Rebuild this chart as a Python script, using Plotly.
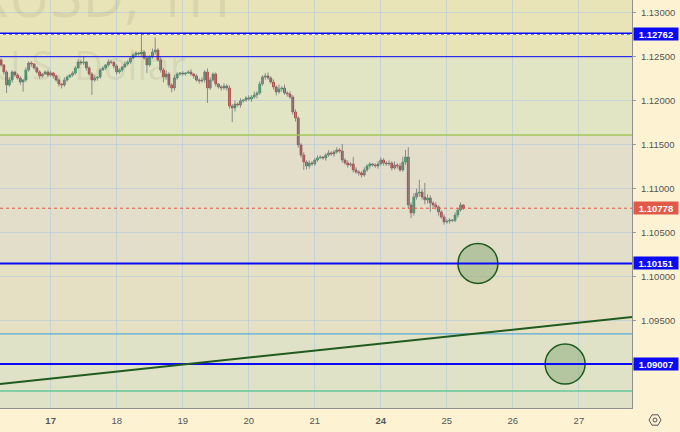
import math

import plotly.graph_objects as go

# EURUSD 1H, hourly closes per trading day (last hours of the 14th first)
first_open = 1.12463
closes_pre = [1.12406, 1.12326, 1.12178, 1.12235, 1.12326, 1.12292, 1.12258, 1.12212, 1.12235,
              1.12349, 1.12428, 1.12417, 1.12372, 1.12326, 1.12281, 1.12303, 1.12326, 1.12292]
closes_17 = [1.12315, 1.12281, 1.12235, 1.12190, 1.12178, 1.12235, 1.12269, 1.12292, 1.12315, 1.12372,
             1.12440, 1.12428, 1.12440, 1.12372, 1.12303, 1.12235, 1.12258, 1.12269, 1.12349, 1.12372,
             1.12406, 1.12440, 1.12436, 1.12394]
closes_18 = [1.12326, 1.12349, 1.12383, 1.12417, 1.12440, 1.12485, 1.12519, 1.12542, 1.12531, 1.12553,
             1.12485, 1.12406, 1.12497, 1.12553, 1.12576, 1.12463, 1.12349, 1.12269, 1.12303, 1.12178,
             1.12144, 1.12258, 1.12303, 1.12315]
closes_19 = [1.12303, 1.12315, 1.12326, 1.12303, 1.12281, 1.12235, 1.12224, 1.12235, 1.12326, 1.12144,
             1.12235, 1.12303, 1.12190, 1.12156, 1.12144, 1.12167, 1.12144, 1.11940, 1.11917, 1.11962,
             1.11951, 1.11997, 1.12008, 1.12031]
closes_20 = [1.12019, 1.12042, 1.12065, 1.12087, 1.12190, 1.12269, 1.12281, 1.12258, 1.12212, 1.12156,
             1.12099, 1.12133, 1.12144, 1.12087, 1.12076, 1.12042, 1.11872, 1.11803, 1.11497, 1.11383,
             1.11303, 1.11258, 1.11292, 1.11281]
closes_21 = [1.11326, 1.11349, 1.11360, 1.11349, 1.11383, 1.11406, 1.11394, 1.11417, 1.11440, 1.11428,
             1.11326, 1.11292, 1.11269, 1.11281, 1.11213, 1.11190, 1.11178, 1.11156, 1.11213, 1.11258,
             1.11281, 1.11269, 1.11258, 1.11281]
closes_24 = [1.11326, 1.11292, 1.11281, 1.11292, 1.11235, 1.11269, 1.11258, 1.11213, 1.11303, 1.11360,
             1.10815, 1.10724, 1.10906, 1.10951, 1.10962, 1.10906, 1.10872, 1.10894, 1.10837, 1.10815,
             1.10792, 1.10735, 1.10678, 1.10622]
closes_25 = [1.10633, 1.10644, 1.10640, 1.10701, 1.10758, 1.10815, 1.10778]

# wick lengths beyond the body, in pips
wick_up = ([2, 1, 2, 3, 2, 1, 2, 2, 1, 3, 2, 2, 1, 2, 2, 1, 2, 2]
           + [2, 1, 2, 2, 1, 3, 2, 1, 2, 2, 3, 2, 7, 1, 2, 2, 3, 1, 2, 2, 1, 3, 2, 1]
           + [2, 2, 1, 3, 2, 1, 2, 2, 1, 22, 2, 3, 2, 4, 14, 2, 3, 2, 4, 2, 2, 3, 2, 1]
           + [2, 1, 2, 3, 1, 2, 2, 3, 2, 4, 3, 2, 2, 1, 2, 3, 2, 3, 2, 4, 2, 3, 1, 2]
           + [3, 2, 4, 2, 3, 2, 3, 4, 2, 3, 2, 5, 2, 4, 2, 3, 2, 3, 2, 2, 3, 2, 3, 2]
           + [2, 3, 2, 1, 2, 3, 2, 2, 3, 2, 8, 2, 3, 2, 8, 3, 2, 2, 3, 2, 2, 1, 2, 3]
           + [3, 2, 2, 3, 2, 4, 2, 3, 6, 8, 11, 3, 4, 5, 14, 3, 16, 4, 3, 2, 3, 2, 2, 3]
           + [2, 2, 1, 3, 2, 3, 1])
wick_dn = ([2, 3, 9, 2, 3, 2, 2, 3, 11, 2, 2, 3, 2, 2, 3, 2, 1, 2]
           + [2, 3, 2, 3, 4, 2, 2, 1, 2, 2, 1, 2, 2, 3, 2, 17, 2, 3, 2, 1, 2, 2, 2, 3]
           + [3, 2, 2, 1, 2, 2, 1, 2, 2, 3, 2, 9, 2, 2, 3, 2, 3, 6, 3, 3, 5, 3, 2, 2]
           + [2, 2, 1, 2, 3, 2, 3, 2, 3, 17, 2, 2, 3, 2, 3, 2, 3, 3, 16, 4, 2, 3, 2, 2]
           + [2, 3, 2, 4, 2, 2, 3, 2, 2, 3, 4, 2, 3, 2, 3, 2, 3, 4, 3, 3, 9, 4, 3, 2]
           + [2, 2, 1, 2, 3, 2, 2, 3, 2, 2, 3, 2, 3, 2, 3, 2, 3, 3, 2, 2, 3, 2, 2, 3]
           + [2, 3, 2, 2, 3, 2, 3, 2, 2, 3, 4, 6, 3, 3, 4, 3, 5, 4, 10, 3, 3, 4, 2, 3]
           + [2, 3, 2, 2, 3, 2, 2])

day_labels = ["<b>17</b>", "18", "19", "20", "21", "<b>24</b>", "25", "26", "27"]
day_start_bar = [0, 24, 48, 72, 96, 120, 144, 168, 192]

price_ticks = [1.090, 1.095, 1.100, 1.105, 1.110, 1.115, 1.120, 1.125, 1.130]
price_tick_text = ["", "1.09500", "1.10000", "1.10500", "1.11000", "1.11500", "1.12000", "1.12500", "1.13000"]

key_levels = [1.12762, 1.10151, 1.09007]
thin_blue_level = 1.12500
olive_level = 1.11610
light_blue_level = 1.09350
teal_level = 1.08700
alert_level = 1.12752
last_price = 1.10778

trend_x = [-18.4, 211.3]
trend_y = [1.08781, 1.09542]

circle_x = [155.3, 187.0]
circle_y = [1.10151, 1.09007]

# background bands (price bottom, price top, colour)
bands = [
    (1.12500, 1.1320, "#e9e4b8"),
    (1.11610, 1.12500, "#e2e5c4"),
    (1.10151, 1.11610, "#e2dec9"),
    (1.09350, 1.10151, "#e5e0c3"),
    (1.0840, 1.09350, "#dfe2c7"),
]

closes = closes_pre + closes_17 + closes_18 + closes_19 + closes_20 + closes_21 + closes_24 + closes_25
bars = list(range(-len(closes_pre), len(closes) - len(closes_pre)))
opens = [first_open] + closes[:-1]
body_hi = [max(o, c) for o, c in zip(opens, closes)]
body_lo = [min(o, c) for o, c in zip(opens, closes)]
highs = [h + u * 0.0001 for h, u in zip(body_hi, wick_up)]
lows = [l - d * 0.0001 for l, d in zip(body_lo, wick_dn)]

X_RANGE = [-18.4, 211.3]
Y_RANGE = [1.08508, 1.13144]
PLOT_W, PLOT_H = 632, 408
px_per_bar = PLOT_W / (X_RANGE[1] - X_RANGE[0])
px_per_price = PLOT_H / (Y_RANGE[1] - Y_RANGE[0])

GREEN = "#2b8a5c"
RED = "#a33437"
BLUE = "#0a0af5"
FONT = "Liberation Sans"

wx, wy = [], []
for b, lo, hi in zip(bars, lows, highs):
    wx += [b, b, None]
    wy += [lo, hi, None]

body_colors = [GREEN if c >= o else RED for o, c in zip(opens, closes)]

fig = go.Figure()
fig.add_trace(go.Scatter(x=wx, y=wy, mode="lines", line=dict(color="#8a8a8a", width=1),
                         hoverinfo="skip"))
fig.add_trace(go.Bar(
    x=bars, y=[h - l for h, l in zip(body_hi, body_lo)], base=body_lo, width=0.72,
    marker=dict(color=body_colors, line=dict(color=body_colors, width=0.6)),
    hoverinfo="skip",
))

shapes = []
for lo, hi, col in bands:
    shapes.append(dict(type="rect", xref="paper", x0=0, x1=1, yref="y", y0=lo, y1=hi,
                       fillcolor=col, line=dict(width=0), layer="below"))

rx = 20 / px_per_bar
ry = 20 / px_per_price
for cx, cy in zip(circle_x, circle_y):
    shapes.append(dict(type="circle", xref="x", yref="y", x0=cx - rx, x1=cx + rx,
                       y0=cy - ry, y1=cy + ry, fillcolor="rgba(136,170,120,0.5)",
                       line=dict(color="#1e5a1e", width=1.5), layer="above"))


def hline(y, color, width, dash="solid"):
    shapes.append(dict(type="line", xref="paper", x0=0, x1=1, yref="y", y0=y, y1=y,
                       line=dict(color=color, width=width, dash=dash), layer="above"))


hline(thin_blue_level, BLUE, 1)
hline(olive_level, "#a3c45a", 1.5)
hline(light_blue_level, "#3b9fd8", 1)
hline(teal_level, "#63c99b", 1.5)
hline(last_price, "#e05a4a", 1, "dot")
for lv in key_levels:
    hline(lv, BLUE, 2)
hline(alert_level, "#f4f4f4", 1, "dot")
shapes.append(dict(type="line", xref="x", yref="y", x0=trend_x[0], x1=trend_x[1],
                   y0=trend_y[0], y1=trend_y[1], line=dict(color="#1f5a1f", width=2),
                   layer="above"))


def pxx(x):
    return x / PLOT_W


def pxy(y):
    return 1 - y / PLOT_H


# settings gear (hexagon with a dot)
gx, gy, gr = 655, 420, 6
pts = [(gx + gr * math.cos(math.radians(a)), gy + gr * math.sin(math.radians(a)))
       for a in range(0, 360, 60)]
path = "M " + " L ".join(f"{pxx(x):.5f},{pxy(y):.5f}" for x, y in pts) + " Z"
shapes.append(dict(type="path", xref="paper", yref="paper", path=path,
                   line=dict(color="#555555", width=1)))
shapes.append(dict(type="circle", xref="paper", yref="paper",
                   x0=pxx(gx - 2), x1=pxx(gx + 2), y0=pxy(gy + 2), y1=pxy(gy - 2),
                   line=dict(color="#555555", width=1)))

annotations = [
    dict(text="EURUSD, 1H", xref="paper", yref="paper", x=pxx(232), y=pxy(-6),
         xanchor="right", yanchor="middle", showarrow=False,
         font=dict(family="Open Sans", size=58, color="rgba(90,90,50,0.10)")),
    dict(text="Euro / U.S. Dollar", xref="paper", yref="paper", x=pxx(188), y=pxy(64),
         xanchor="right", yanchor="middle", showarrow=False,
         font=dict(family="Open Sans", size=40, color="rgba(90,90,50,0.10)")),
]
for lv in key_levels:
    annotations.append(dict(text=f"{lv:.5f}", xref="paper", yref="y", x=1, y=lv,
                            xanchor="left", yanchor="middle", xshift=1, showarrow=False,
                            bgcolor=BLUE, width=42, height=10, borderpad=1,
                            font=dict(family=FONT, size=9.5, color="white", weight="bold")))
annotations.append(dict(text=f"{last_price:.5f}", xref="paper", yref="y", x=1, y=last_price,
                        xanchor="left", yanchor="middle", xshift=1, showarrow=False,
                        bgcolor="#e05a4a", width=42, height=10, borderpad=1,
                        font=dict(family=FONT, size=9.5, color="white", weight="bold")))

fig.update_layout(
    width=680, height=432,
    margin=dict(l=0, r=48, t=0, b=24),
    paper_bgcolor="#fdf3d3",
    plot_bgcolor="#e2dec9",
    showlegend=False,
    shapes=shapes,
    annotations=annotations,
    xaxis=dict(range=X_RANGE, tickvals=day_start_bar, ticktext=day_labels,
               showgrid=True, gridcolor="rgba(170,195,225,0.5)", gridwidth=1,
               zeroline=False, showline=True, linecolor="#8f8f8f", linewidth=1,
               ticks="", ticklabelstandoff=4,
               tickfont=dict(family=FONT, size=9.5, color="#555555")),
    yaxis=dict(range=Y_RANGE, side="right", tickvals=price_ticks, ticktext=price_tick_text,
               showgrid=True, gridcolor="rgba(170,195,225,0.5)", gridwidth=1,
               zeroline=False, showline=True, linecolor="#8f8f8f", linewidth=1,
               ticks="outside", ticklen=3, tickcolor="#9a9a9a", ticklabelstandoff=3,
               tickfont=dict(family=FONT, size=9.5, color="#555555")),
)

fig.write_html("out.html", config={"displayModeBar": False},
               post_script="document.body.style.margin='0px';")
